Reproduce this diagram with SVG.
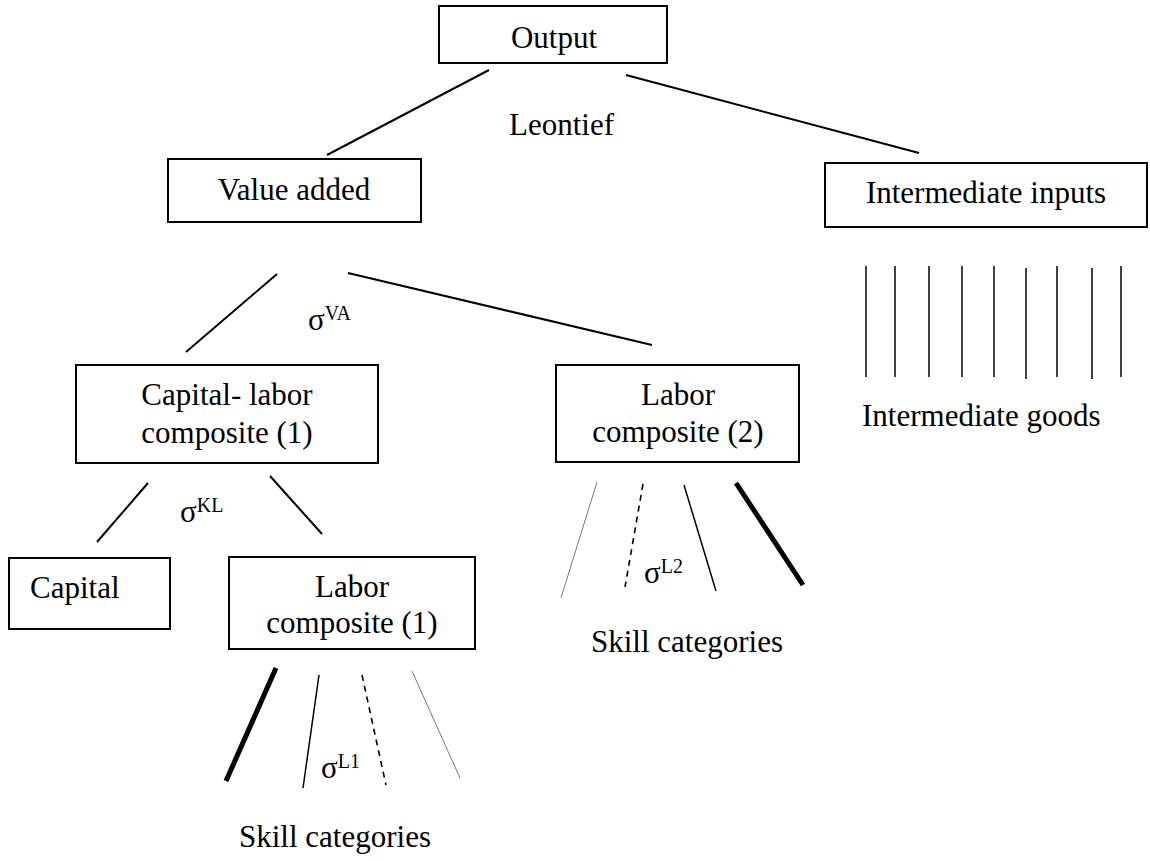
<svg xmlns="http://www.w3.org/2000/svg" width="1150" height="861" viewBox="0 0 1150 861">
<style>
.box{fill:#fff;stroke:#000;stroke-width:2}
.t{font-family:"Liberation Serif","Times New Roman",serif;font-size:31px;fill:#000}
.c{text-anchor:middle}
.sup{font-size:20px}
.ln{stroke:#000;stroke-width:2;fill:none}
.thin{stroke:#000;stroke-width:1.5;fill:none}
.thick{stroke:#000;stroke-width:5;fill:none}
.dash{stroke:#000;stroke-width:1.6;stroke-dasharray:6 5;fill:none}
.hair{stroke:#555;stroke-width:0.8;fill:none}
</style>
<rect width="1150" height="861" fill="#fff"/>
<g id="connectors">
<line class="ln" x1="489" y1="70" x2="327" y2="155"/>
<line class="ln" x1="626" y1="75" x2="919" y2="153"/>
<line class="ln" x1="277" y1="274" x2="186" y2="352"/>
<line class="ln" x1="348" y1="273" x2="652" y2="345"/>
<line class="ln" x1="148" y1="483" x2="97" y2="542"/>
<line class="ln" x1="270" y1="476" x2="322" y2="534"/>
<line class="thick" x1="276" y1="668" x2="226" y2="781"/>
<line class="thin" x1="319" y1="675" x2="303" y2="788"/>
<line class="dash" x1="362" y1="675" x2="386" y2="785"/>
<line class="hair" x1="412" y1="671" x2="460" y2="778"/>
<line class="hair" x1="597" y1="482" x2="561" y2="598"/>
<line class="dash" x1="643" y1="484" x2="625" y2="587"/>
<line class="thin" x1="684" y1="485" x2="716" y2="591"/>
<line class="thick" x1="736" y1="483" x2="803" y2="585"/>
<g class="thin">
<line x1="866" y1="266" x2="866" y2="377"/>
<line x1="895" y1="266" x2="895" y2="377"/>
<line x1="929" y1="266" x2="929" y2="377"/>
<line x1="962" y1="266" x2="962" y2="377"/>
<line x1="994" y1="266" x2="994" y2="377"/>
<line x1="1026" y1="268" x2="1026" y2="379"/>
<line x1="1057" y1="266" x2="1057" y2="377"/>
<line x1="1092" y1="268" x2="1092" y2="379"/>
<line x1="1121" y1="266" x2="1121" y2="377"/>
</g>
</g>
<g id="output"><rect class="box" x="439" y="6" width="228" height="57"/><text class="t c" x="554" y="48">Output</text></g>
<g id="leontief"><text class="t" x="509" y="135">Leontief</text></g>
<g id="value-added"><rect class="box" x="168" y="159" width="253" height="63"/><text class="t c" x="294" y="200">Value added</text></g>
<g id="intermediate-inputs"><rect class="box" x="825" y="163" width="322" height="64"/><text class="t c" x="986" y="203">Intermediate inputs</text></g>
<g id="intermediate-goods"><text class="t" x="862" y="426">Intermediate goods</text></g>
<g id="sigma-va"><text class="t" x="308" y="330">σ<tspan class="sup" dy="-10">VA</tspan></text></g>
<g id="capital-labor"><rect class="box" x="76" y="365" width="302" height="98"/><text class="t c" x="227" y="405">Capital- labor</text><text class="t c" x="227" y="443">composite (1)</text></g>
<g id="labor-composite-2"><rect class="box" x="556" y="365" width="243" height="97"/><text class="t c" x="678" y="405">Labor</text><text class="t c" x="678" y="442">composite (2)</text></g>
<g id="sigma-kl"><text class="t" x="180" y="522">σ<tspan class="sup" dy="-10">KL</tspan></text></g>
<g id="capital"><rect class="box" x="9" y="558" width="161" height="71"/><text class="t" x="30" y="598">Capital</text></g>
<g id="labor-composite-1"><rect class="box" x="229" y="557" width="246" height="92"/><text class="t c" x="352" y="597">Labor</text><text class="t c" x="352" y="633">composite (1)</text></g>
<g id="sigma-l1"><text class="t" x="321" y="778">σ<tspan class="sup" dy="-10">L1</tspan></text></g>
<g id="sigma-l2"><text class="t" x="644" y="583">σ<tspan class="sup" dy="-10">L2</tspan></text></g>
<g id="skill-1"><text class="t c" x="335" y="847">Skill categories</text></g>
<g id="skill-2"><text class="t c" x="687" y="652">Skill categories</text></g>
</svg>
